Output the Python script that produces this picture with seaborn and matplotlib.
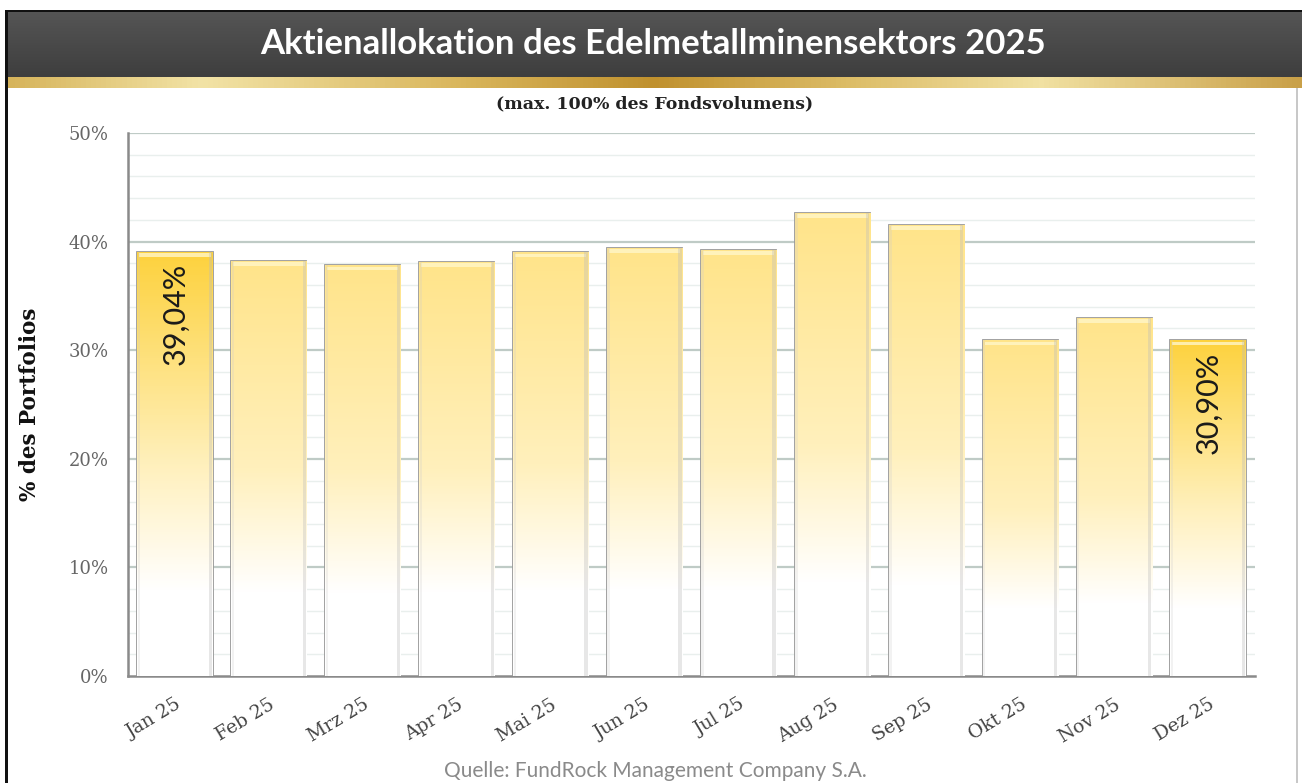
import numpy as np
import matplotlib
matplotlib.use("Agg")
import matplotlib.pyplot as plt
import seaborn as sns
from matplotlib.colors import LinearSegmentedColormap
from matplotlib.patches import Rectangle

# Daten
months = ["Jan 25", "Feb 25", "Mrz 25", "Apr 25", "Mai 25", "Jun 25",
          "Jul 25", "Aug 25", "Sep 25", "Okt 25", "Nov 25", "Dez 25"]
allocation = [39.04, 38.2, 37.8, 38.1, 39.0, 39.4, 39.2, 42.6, 41.5, 30.9, 33.0, 30.90]
highlight = [True, False, False, False, False, False, False, False, False, False, False, True]
value_labels = ["39,04%", "", "", "", "", "", "", "", "", "", "", "30,90%"]
y_ticks = [0, 10, 20, 30, 40, 50]

W, H = 1302, 783
sns.set_theme(style="white")
plt.rcParams["font.family"] = ["DejaVu Serif"]

fig = plt.figure(figsize=(W / 100, H / 100), dpi=100)
fig.patch.set_facecolor("white")

# Kopfzeile (dunkler Verlauf)
ax_h = fig.add_axes([5 / W, 1 - 77 / H, 1 - 5 / W, 66 / H])
grad = np.linspace(0, 1, 64).reshape(-1, 1)
cm_head = LinearSegmentedColormap.from_list("head", ["#555555", "#3e3e3e"])
ax_h.imshow(grad, aspect="auto", cmap=cm_head, extent=[0, 1, 0, 1], origin="upper")
ax_h.set_axis_off()
ax_h.text(0.5, 0.5, "Aktienallokation des Edelmetallminensektors 2025",
          color="white", fontsize=25, fontweight="bold", family=["Lato", "DejaVu Sans"],
          ha="center", va="center", transform=ax_h.transAxes)

# Goldstreifen
ax_g = fig.add_axes([5 / W, 1 - 88 / H, 1 - 5 / W, 11 / H])
cm_gold = LinearSegmentedColormap.from_list(
    "gold", [(0, "#d6b35a"), (0.15, "#f2e3a6"), (0.35, "#d9b65c"), (0.5, "#c0912e"),
             (0.65, "#dcbc66"), (0.8, "#f1e1a2"), (1.0, "#c9a048")])
ax_g.imshow(np.linspace(0, 1, 256).reshape(1, -1), aspect="auto", cmap=cm_gold,
            extent=[0, 1, 0, 1])
ax_g.set_axis_off()

# Rahmenlinien
fig.add_artist(Rectangle((5 / W, 1 - 12 / H), 1, 2.5 / H, transform=fig.transFigure,
                         color="#111111", lw=0))
fig.add_artist(Rectangle((5 / W, 0), 2.5 / W, 1 - 10 / H, transform=fig.transFigure,
                         color="#111111", lw=0))
fig.add_artist(Rectangle((1296 / W, 0), 1.5 / W, 1 - 88 / H, transform=fig.transFigure,
                         color="#c8c8c8", lw=0))

fig.text(655 / W, 1 - 104 / H, "(max. 100% des Fondsvolumens)", ha="center", va="center",
         fontsize=12.5, fontweight="bold", color="#222222")

# Diagramm
ax = fig.add_axes([128 / W, 1 - 676 / H, (1255 - 128) / W, (676 - 133) / H])
ax.set_facecolor("white")
sns.barplot(x=months, y=allocation, color="white", width=0.8, ax=ax,
            edgecolor="#9a9a9a", linewidth=1.3, zorder=3)

for i, patch in enumerate(ax.patches):
    x0, w, h = patch.get_x(), patch.get_width(), patch.get_height()
    top = "#fdd23e" if highlight[i] else "#ffe48a"
    cmap = LinearSegmentedColormap.from_list(
        "bar", [(0, "#ffffff"), (0.2, "#ffffff"), (0.5, "#fff0bc"), (1.0, top)])
    g = np.linspace(0, 1, 200).reshape(-1, 1)
    im = ax.imshow(g, aspect="auto", cmap=cmap, origin="lower",
                   extent=[x0, x0 + w, 0, h], zorder=3.5)
    im.set_clip_path(patch)
    # heller Rand oben (Abschrägung)
    ax.add_patch(Rectangle((x0 + 0.02, h - 0.45), w - 0.04, 0.35, color="#fff6c8",
                           lw=0, zorder=3.6, alpha=0.8))
    # leichter Schatten an den Seiten
    ax.add_patch(Rectangle((x0 + w - 0.04, 0), 0.035, h, color="#bbbbbb",
                           lw=0, zorder=3.6, alpha=0.35))
    ax.add_patch(Rectangle((x0 + 0.005, 0), 0.025, h, color="#cccccc",
                           lw=0, zorder=3.6, alpha=0.25))
    if value_labels[i]:
        ax.text(x0 + w / 2, h - 1.0, value_labels[i], rotation=90, ha="center", va="top",
                fontsize=22, color="#1a1a1a", family=["Lato", "DejaVu Sans"], zorder=5)

ax.set_xlim(-0.5, len(months) - 0.5)
ax.set_ylim(0, 50)

# Gitter
for v in np.arange(2, 50, 2):
    major = v % 10 == 0
    ax.axhline(v, color="#bfcbc6" if major else "#e9efed", lw=1.6 if major else 1.0, zorder=1)
ax.axhline(50, color="#bfcbc6", lw=1.6, zorder=1)

ax.set_yticks(y_ticks)
ax.set_yticklabels([f"{v}%" for v in y_ticks], fontsize=13, color="#666666")
ax.set_xticks(range(len(months)))
ax.set_xticklabels(months, rotation=31, ha="right", rotation_mode="anchor",
                   fontsize=13.5, color="#444444")
ax.set_xticks(np.arange(-0.5, len(months), 1), minor=True)
ax.tick_params(axis="x", which="major", length=0, pad=14)
ax.tick_params(axis="x", which="minor", length=6, color="#888888", width=1.5, direction="out")
ax.tick_params(axis="y", which="major", length=8, color="#888888", width=1.5,
               direction="out", pad=6)
for s in ["top", "right"]:
    ax.spines[s].set_visible(False)
for s in ["left", "bottom"]:
    ax.spines[s].set_color("#8a8a8a")
    ax.spines[s].set_linewidth(1.8)
ax.set_xlabel("")
ax.set_ylabel("% des Portfolios", fontsize=15.5, fontweight="bold", color="#111111", labelpad=20)
ax.grid(False)

fig.text(655 / W, 1 - 781 / H, "Quelle: FundRock Management Company S.A.", ha="center",
         va="bottom", fontsize=15, color="#8a8a8a", family=["Lato", "DejaVu Sans"])

fig.savefig("out.png", dpi=100)
